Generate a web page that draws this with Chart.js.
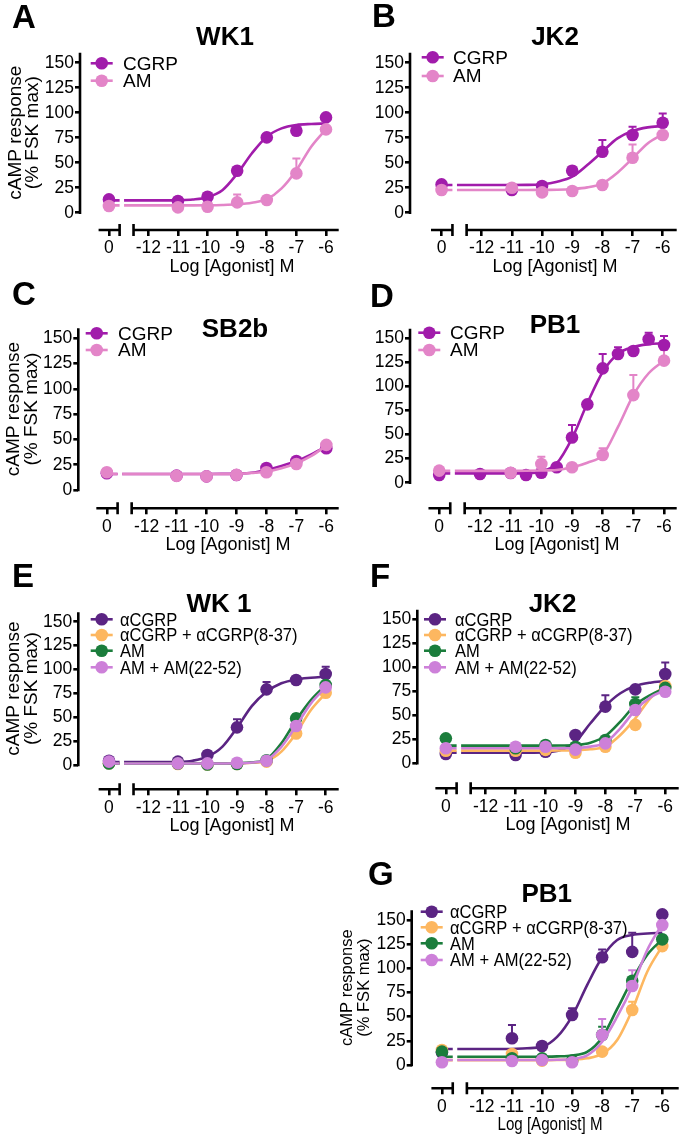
<!DOCTYPE html>
<html><head><meta charset="utf-8">
<script src="https://cdn.jsdelivr.net/npm/chart.js@4.4.1/dist/chart.umd.min.js"></script>
<style>
html,body{margin:0;padding:0;background:#fff;}
body{width:685px;height:1138px;position:relative;overflow:hidden;}
canvas{position:absolute;}
</style>
</head><body>
<canvas id="cA"></canvas><canvas id="cB"></canvas><canvas id="cC"></canvas><canvas id="cD"></canvas>
<canvas id="cE"></canvas><canvas id="cF"></canvas><canvas id="cG"></canvas>
<script>
// ---------------- DATA ----------------
// doses: log [agonist] M ; 0 = no agonist (basal)
const DOSES = [0, -11, -10, -9, -8, -7, -6];
const DOSES_D_CGRP = [0, -12, -11, -10.5, -10, -9.5, -9, -8.5, -8, -7.5, -7, -6.5, -6];
const X_TICK_DOSES = [0, -12, -11, -10, -9, -8, -7, -6];
const X_TICK_LABELS = ['0', '-12', '-11', '-10', '-9', '-8', '-7', '-6'];
const Y_TICKS = [0, 25, 50, 75, 100, 125, 150];
const CURVE_LOGX = [-12.5, -12, -11.5, -11, -10.5, -10, -9.5, -9, -8.5, -8, -7.5, -7, -6.5, -6];

// Panel A  WK1
const A_CGRP = [13.3, 11.7, 16, 42, 75.3, 82, 95.3];
const A_CGRP_ERR = [null, null, null, null, null, null, null];
const A_AM = [6.7, 5.3, 6, 10.3, 12.7, 39.3, 83.3];
const A_AM_ERR = [null, null, null, 8, null, 15, null];
const A_CGRP_FIT = [12.3, 12.3, 12.3, 12.5, 13.2, 15.5, 22.5, 39, 59.5, 76, 84.3, 87.7, 88.7, 89.2];
const A_AM_FIT = [7.3, 7.3, 7.3, 7.3, 7.3, 7.4, 7.7, 8.4, 10, 13.5, 24.3, 42.5, 66, 83.5];

// Panel B  JK2
const B_CGRP = [28.3, 22.7, 26.7, 42, 61, 77.7, 90];
const B_CGRP_ERR = [null, null, null, 4, 11.7, 8.3, 9.3];
const B_AM = [22.7, 25, 20.3, 21.7, 27.7, 55, 77.7];
const B_AM_ERR = [null, null, null, null, null, 13.3, 12];
const B_CGRP_FIT = [27.7, 27.7, 27.7, 27.7, 27.8, 28.5, 31, 36, 47.7, 61, 74.3, 81.7, 85.3, 86.7];
const B_AM_FIT = [22.7, 22.7, 22.7, 22.7, 22.7, 22.8, 23, 23.7, 25.3, 29.3, 40, 54.3, 69.3, 78.3];

// Panel C  SB2b
const C_CGRP = [16.5, 14.2, 13.5, 14.9, 21.8, 28.7, 41.3];
const C_AM = [17.5, 14, 13.5, 15, 17.5, 25.7, 44.6];
const C_NO_ERR = [null, null, null, null, null, null, null];
const C_CGRP_FIT = [15.8, 15.8, 15.8, 15.8, 15.8, 15.8, 15.9, 16.2, 17, 19.8, 23.8, 28.7, 35.3, 42.9];
const C_AM_FIT = [15.8, 15.8, 15.8, 15.8, 15.8, 15.8, 15.8, 16, 16.8, 18, 21.4, 26.4, 33.7, 43.9];

// Panel D  PB1
const D_CGRP = [8, 9, 10, 8, 10.4, 16, 47, 81.4, 118.8, 133.7, 136.8, 149, 143];
const D_CGRP_ERR = [null, null, null, null, null, null, 13, null, 15, 7, null, 6.8, 9.4];
const D_AM = [12.5, 10.4, 19.4, 16, 28.8, 91, 126.8];
const D_AM_ERR = [null, null, 7.6, null, 7, 21, 11];
const D_CGRP_FIT = [9.7, 9.7, 9.7, 9.7, 9.9, 11.4, 20, 46, 82.5, 115, 134, 141, 143.8, 144.8];
const D_AM_FIT = [12.3, 12.3, 12.3, 12.3, 12.4, 12.7, 13.2, 16, 20.8, 28.8, 58, 91, 113.7, 126.8];

// Panel E  WK 1
const E_ACGRP = [4.5, 3.5, 10.5, 39.4, 79.2, 88.9, 95.2];
const E_ACGRP_ERR = [null, null, 4, 8.4, 7.8, null, 7.6];
const E_ACGRP_ANT = [1.7, 1, 0.5, 1, 3.5, 33, 75.6];
const E_ACGRP_ANT_ERR = [null, null, null, null, null, null, null];
const E_AM = [1.5, 1.5, 0.5, 1, 5, 48.8, 83.7];
const E_AM_ERR = [null, null, null, null, null, 4, null];
const E_AM_ANT = [3.5, 1.7, 1.7, 2.4, 4.5, 40.8, 81.3];
const E_AM_ANT_ERR = [null, null, null, null, null, 7, null];
const E_ACGRP_FIT = [3, 3, 3, 3.2, 4.5, 8.7, 19, 39, 61.7, 76.7, 85.5, 89.6, 91.3, 92.4];
const E_ACGRP_ANT_FIT = [1.5, 1.5, 1.5, 1.5, 1.5, 1.5, 1.5, 1.7, 2.3, 4.2, 14, 33.2, 57.5, 75];
const E_AM_FIT = [1.5, 1.5, 1.5, 1.5, 1.5, 1.5, 1.6, 1.9, 2.8, 6, 22.7, 47, 68, 83.7];
const E_AM_ANT_FIT = [1.5, 1.5, 1.5, 1.5, 1.5, 1.5, 1.6, 1.8, 2.6, 5.3, 19, 40.8, 64.5, 81.3];

// Panel F  JK2
const F_ACGRP = [9.7, 8.6, 12.1, 29.5, 59, 77, 93];
const F_ACGRP_ERR = [null, null, null, null, 12, null, 12];
const F_ACGRP_ANT = [13, 13, 14, 11, 17.3, 40, 80.5];
const F_ACGRP_ANT_ERR = [null, null, null, null, null, null, 8];
const F_AM = [26, 15.6, 19, 17.3, 24.3, 61.8, 78.6];
const F_AM_ERR = [null, null, null, null, null, 7, null];
const F_AM_ANT = [15.6, 17.3, 17.3, 14.2, 20.8, 55.5, 74.6];
const F_AM_ANT_ERR = [null, null, null, null, null, null, null];
const F_ACGRP_FIT = [11, 11, 11, 11, 11.1, 11.5, 13.8, 22.5, 41.7, 59.7, 73, 80.5, 84, 85.7];
const F_ACGRP_ANT_FIT = [13.2, 13.2, 13.2, 13.2, 13.2, 13.2, 13.3, 13.6, 14.6, 17.3, 29.5, 46.8, 67.7, 81.5];
const F_AM_FIT = [18.4, 18.4, 18.4, 18.4, 18.4, 18.4, 18.5, 19, 21.5, 28.4, 43.4, 60.8, 71, 78];
const F_AM_ANT_FIT = [15.6, 15.6, 15.6, 15.6, 15.6, 15.6, 15.7, 16, 17.4, 21.5, 36.5, 55.5, 68.7, 76.3];

// Panel G  PB1
const G_ACGRP = [13, 27.6, 19.6, 51.7, 111.4, 117, 155.8];
const G_ACGRP_ERR = [null, 13.8, null, 6.9, 8.2, 19.8, null];
const G_ACGRP_ANT = [15.5, 11.4, 4.5, 4, 13.8, 56.9, 123];
const G_ACGRP_ANT_ERR = [null, null, null, null, null, 8.6, null];
const G_AM = [13.8, 7, 6.9, 4.5, 31, 87.2, 130];
const G_AM_ERR = [null, null, null, null, 8.6, null, null];
const G_AM_ANT = [2.8, 4.1, 5.2, 2.8, 31, 81.7, 144.8];
const G_AM_ANT_ERR = [null, null, null, null, 16.6, 16.3, 8];
const G_ACGRP_FIT = [16.5, 16.5, 16.5, 16.5, 17.3, 18.8, 29, 50.6, 82.7, 111.4, 129.3, 134.5, 136, 136.8];
const G_ACGRP_ANT_FIT = [5, 5, 5, 5, 5, 5, 5.2, 5.6, 6.9, 11.4, 25.8, 56.9, 96.5, 123];
const G_AM_FIT = [8.5, 8.5, 8.5, 8.5, 8.5, 8.6, 8.9, 9.8, 13.5, 28.5, 58, 88, 114, 130];
const G_AM_ANT_FIT = [5.2, 5.2, 5.2, 5.2, 5.2, 5.2, 5.4, 6.2, 10, 24, 50, 81, 119, 146];

// ---------------- STYLE / LAYOUT ----------------
const COL_CGRP = '#A11CAB', COL_AM = '#E385C8';
const COL_ACGRP = '#5B2483', COL_ANT = '#FDB760', COL_GREEN = '#1B7D3C', COL_VIOLET = '#CD80D9';
const FONT = '"Liberation Sans", Arial, Helvetica, sans-serif';
const ZERO_POS = -13.33, LEFT_START = -13.68, BREAK_L = -12.97, BREAK_R = -12.82, RIGHT_START = -12.5;
const YW = 42, XH = 36;

Chart.defaults.font.family = FONT;
Chart.defaults.color = '#000';

function toX(d) { return d === 0 ? ZERO_POS : d; }

function makePanel(L, series) {
  const cv = document.getElementById(L.id);
  cv.width = L.w; cv.height = L.h;
  cv.style.left = L.l + 'px'; cv.style.top = L.t + 'px';
  cv.style.width = L.w + 'px'; cv.style.height = L.h + 'px';
  const top = L.y0 - 160 * L.k;
  const xMin = -12 - (L.x12 - L.yAxisX) / L.pxLog;
  const xMax = -12 + (L.right - L.x12) / L.pxLog;
  const yMin = -(L.xAxisY - L.y0) / L.k;
  const n = series.length;
  const datasets = [];
  series.forEach((s, i) => {
    const fitPts = [{x: ZERO_POS, y: s.fit[0]}, {x: BREAK_L, y: s.fit[0]},
      {x: (BREAK_L + BREAK_R) / 2, y: null}, {x: BREAK_R, y: s.fit[0]}]
      .concat(CURVE_LOGX.map((lx, j) => ({x: lx, y: s.fit[j]})));
    datasets.push({label: s.label + ' fit', data: fitPts, borderColor: s.color, borderWidth: 2.6,
      pointRadius: 0, cubicInterpolationMode: 'monotone', spanGaps: false, fill: false, clip: false,
      order: 2 * (n - i) + 1});
    datasets.push({label: s.label, data: s.doses.map((d, j) => ({x: toX(d), y: s.values[j]})),
      showLine: false, pointRadius: 6.3, pointHoverRadius: 6.3, pointBackgroundColor: s.color,
      pointBorderColor: s.color, pointBorderWidth: 0, clip: false, order: 2 * (n - i)});
  });
  const lx = v => v - L.l, ly = v => v - L.t;
  const deco = {
    id: 'deco' + L.id,
    beforeDatasetsDraw(chart) {
      const ctx = chart.ctx, xs = chart.scales.x, ys = chart.scales.y, ca = chart.chartArea;
      ctx.save();
      ctx.strokeStyle = '#000'; ctx.lineWidth = 2.6; ctx.lineCap = 'butt';
      ctx.beginPath();
      ctx.moveTo(ca.left, ys.getPixelForValue(0) + 1.3); ctx.lineTo(ca.left, ys.getPixelForValue(160));
      const ay = ca.bottom, px = v => xs.getPixelForValue(v);
      ctx.moveTo(px(LEFT_START), ay); ctx.lineTo(px(BREAK_L), ay);
      ctx.moveTo(px(RIGHT_START), ay); ctx.lineTo(ca.right, ay);
      ctx.moveTo(px(BREAK_L), ay - 6); ctx.lineTo(px(BREAK_L), ay + 6);
      ctx.moveTo(px(RIGHT_START), ay - 6); ctx.lineTo(px(RIGHT_START), ay + 6);
      ctx.stroke();
      // error bars (upper SEM only)
      ctx.lineWidth = 2;
      series.forEach(s => {
        ctx.strokeStyle = s.color;
        s.doses.forEach((d, j) => {
          const e = s.err[j];
          if (e == null) return;
          const x = px(toX(d)), y1 = ys.getPixelForValue(s.values[j]), y2 = ys.getPixelForValue(s.values[j] + e);
          ctx.beginPath(); ctx.moveTo(x, y1); ctx.lineTo(x, y2);
          ctx.moveTo(x - 4, y2); ctx.lineTo(x + 4, y2); ctx.stroke();
        });
      });
      ctx.restore();
    },
    afterDraw(chart) {
      const ctx = chart.ctx, ys = chart.scales.y, ca = chart.chartArea;
      ctx.save();
      ctx.fillStyle = '#000';
      // panel letter
      ctx.font = 'bold 33px ' + FONT; ctx.textAlign = 'left'; ctx.textBaseline = 'alphabetic';
      ctx.fillText(L.letter, lx(L.letterX), ly(L.letterY));
      // title
      ctx.font = 'bold 26px ' + FONT; ctx.textAlign = 'center';
      ctx.fillText(L.title, lx(L.titleX), ly(L.titleY));
      // x axis title
      ctx.font = '18px ' + FONT; ctx.textBaseline = 'middle';
      ctx.save(); ctx.translate(lx(L.xTitleX), ca.bottom + 37); ctx.scale(L.xTitleScale || 1, 1);
      ctx.fillText('Log [Agonist] M', 0, 0); ctx.restore();
      // y axis title
      if (L.yTitle) {
        const cy = ys.getPixelForValue(80);
        ctx.save(); ctx.translate(ca.left, cy); ctx.rotate(-Math.PI / 2);
        ctx.font = (L.yTitleSize || 19) + 'px ' + FONT; ctx.textAlign = 'center'; ctx.textBaseline = 'middle';
        ctx.fillText('cAMP response', 0, -64.5);
        ctx.fillText('(% FSK max)', 0, -47);
        ctx.restore();
      }
      // legend
      series.forEach((s, i) => {
        const y = ly(L.legYs[i]), mx = lx(L.legX);
        ctx.strokeStyle = s.color; ctx.fillStyle = s.color; ctx.lineWidth = 2.6;
        ctx.beginPath(); ctx.moveTo(mx - 11, y); ctx.lineTo(mx + 11, y); ctx.stroke();
        ctx.beginPath(); ctx.arc(mx, y, 6.3, 0, Math.PI * 2); ctx.fill();
        ctx.fillStyle = '#000'; ctx.font = '19px ' + FONT; ctx.textAlign = 'left'; ctx.textBaseline = 'middle';
        ctx.save(); ctx.translate(lx(L.legTextX), y + 1); ctx.scale(L.legScale || 1, 1);
        ctx.fillText(s.label, 0, 0); ctx.restore();
      });
      ctx.restore();
    }
  };
  return new Chart(cv, {
    type: 'line',
    data: {datasets},
    options: {
      responsive: false, animation: false, devicePixelRatio: 1,
      layout: {padding: {left: L.yAxisX - L.l - YW, top: top - L.t, right: (L.l + L.w) - L.right,
        bottom: (L.t + L.h) - L.xAxisY - XH}},
      plugins: {legend: {display: false}, tooltip: {enabled: false}, title: {display: false}},
      scales: {
        x: {type: 'linear', min: xMin, max: xMax,
          afterBuildTicks: s => { s.ticks = X_TICK_DOSES.map(d => ({value: toX(d)})); },
          afterFit: s => { s.height = XH; },
          ticks: {autoSkip: false, maxRotation: 0, minRotation: 0, padding: 2, color: '#000',
            font: {size: 17.5}, callback: (v, i) => X_TICK_LABELS[i]},
          grid: {drawOnChartArea: false, drawTicks: true, tickLength: 6, color: '#000', lineWidth: 2.6},
          border: {display: false}},
        y: {type: 'linear', min: yMin, max: 160,
          afterBuildTicks: s => { s.ticks = Y_TICKS.map(v => ({value: v})); },
          afterFit: s => { s.width = YW; },
          ticks: {padding: 1, color: '#000', font: {size: 17.5}},
          grid: {drawOnChartArea: false, drawTicks: true, tickLength: 5, color: '#000', lineWidth: 2.6},
          border: {display: false}}
      }
    },
    plugins: [deco]
  });
}

function ser(label, color, doses, values, err, fit) { return {label, color, doses, values, err, fit}; }

const LEG4_A = 619.3, LEG4_B = 635, LEG4_C = 650.7, LEG4_D = 667.3;

makePanel({id: 'cA', l: 0, t: 0, w: 345, h: 280, yAxisX: 80, y0: 212.7, k: 1.0, xAxisY: 230, x12: 150, pxLog: 30.33, right: 345,
  letter: 'A', letterX: 12, letterY: 28, title: 'WK1', titleX: 225, titleY: 45, xTitleX: 232, yTitle: true,
  legX: 101.7, legYs: [63.3, 80.7], legTextX: 123},
  [ser('CGRP', COL_CGRP, DOSES, A_CGRP, A_CGRP_ERR, A_CGRP_FIT), ser('AM', COL_AM, DOSES, A_AM, A_AM_ERR, A_AM_FIT)]);

makePanel({id: 'cB', l: 345, t: 0, w: 340, h: 280, yAxisX: 410, y0: 212.7, k: 1.0, xAxisY: 230, x12: 481.7, pxLog: 30.17, right: 676.7,
  letter: 'B', letterX: 372, letterY: 27, title: 'JK2', titleX: 555, titleY: 45, xTitleX: 555, yTitle: false,
  legX: 432.7, legYs: [57.3, 76], legTextX: 453},
  [ser('CGRP', COL_CGRP, DOSES, B_CGRP, B_CGRP_ERR, B_CGRP_FIT), ser('AM', COL_AM, DOSES, B_AM, B_AM_ERR, B_AM_FIT)]);

makePanel({id: 'cC', l: 0, t: 280, w: 345, h: 275, yAxisX: 78.3, y0: 490, k: 1.0113, xAxisY: 508.3, x12: 148.3, pxLog: 30.67, right: 345,
  letter: 'C', letterX: 12, letterY: 305, title: 'SB2b', titleX: 235, titleY: 336.7, xTitleX: 228, yTitle: true,
  legX: 96.7, legYs: [333.3, 350], legTextX: 118},
  [ser('CGRP', COL_CGRP, DOSES, C_CGRP, C_NO_ERR, C_CGRP_FIT), ser('AM', COL_AM, DOSES, C_AM, C_NO_ERR, C_AM_FIT)]);

makePanel({id: 'cD', l: 345, t: 280, w: 340, h: 275, yAxisX: 410, y0: 482.7, k: 0.9627, xAxisY: 508.3, x12: 480, pxLog: 30.67, right: 676.7,
  letter: 'D', letterX: 370, letterY: 307, title: 'PB1', titleX: 555, titleY: 333, xTitleX: 557, yTitle: false,
  legX: 429.3, legYs: [332.7, 350], legTextX: 450},
  [ser('CGRP', COL_CGRP, DOSES_D_CGRP, D_CGRP, D_CGRP_ERR, D_CGRP_FIT), ser('AM', COL_AM, DOSES, D_AM, D_AM_ERR, D_AM_FIT)]);

makePanel({id: 'cE', l: 0, t: 555, w: 345, h: 285, yAxisX: 78.3, y0: 765, k: 0.9553, xAxisY: 789.3, x12: 150, pxLog: 30.28, right: 345,
  letter: 'E', letterX: 12, letterY: 587, title: 'WK 1', titleX: 219, titleY: 612, xTitleX: 232, yTitle: true,
  legX: 101.7, legYs: [LEG4_A, LEG4_B, LEG4_C, LEG4_D], legTextX: 120, legScale: 0.87},
  [ser('αCGRP', COL_ACGRP, DOSES, E_ACGRP, E_ACGRP_ERR, E_ACGRP_FIT),
   ser('αCGRP + αCGRP(8-37)', COL_ANT, DOSES, E_ACGRP_ANT, E_ACGRP_ANT_ERR, E_ACGRP_ANT_FIT),
   ser('AM', COL_GREEN, DOSES, E_AM, E_AM_ERR, E_AM_FIT),
   ser('AM + AM(22-52)', COL_VIOLET, DOSES, E_AM_ANT, E_AM_ANT_ERR, E_AM_ANT_FIT)]);

makePanel({id: 'cF', l: 345, t: 555, w: 340, h: 285, yAxisX: 417.3, y0: 763.3, k: 0.96, xAxisY: 788.3, x12: 486.7, pxLog: 30.39, right: 682.7,
  letter: 'F', letterX: 370, letterY: 587, title: 'JK2', titleX: 552.5, titleY: 612, xTitleX: 568, yTitle: false,
  legX: 435, legYs: [LEG4_A, LEG4_B, LEG4_C, LEG4_D], legTextX: 455, legScale: 0.87},
  [ser('αCGRP', COL_ACGRP, DOSES, F_ACGRP, F_ACGRP_ERR, F_ACGRP_FIT),
   ser('αCGRP + αCGRP(8-37)', COL_ANT, DOSES, F_ACGRP_ANT, F_ACGRP_ANT_ERR, F_ACGRP_ANT_FIT),
   ser('AM', COL_GREEN, DOSES, F_AM, F_AM_ERR, F_AM_FIT),
   ser('AM + AM(22-52)', COL_VIOLET, DOSES, F_AM_ANT, F_AM_ANT_ERR, F_AM_ANT_FIT)]);

makePanel({id: 'cG', l: 335, t: 840, w: 350, h: 298, yAxisX: 411.7, y0: 1065, k: 0.9667, xAxisY: 1088.3, x12: 482.7, pxLog: 30.4, right: 681.7,
  letter: 'G', letterX: 368, letterY: 885, title: 'PB1', titleX: 546.7, titleY: 902, xTitleX: 550, xTitleScale: 0.84,
  yTitle: true, yTitleSize: 16.5,
  legX: 431.7, legYs: [911.7, 927.3, 943.3, 960], legTextX: 450, legScale: 0.87},
  [ser('αCGRP', COL_ACGRP, DOSES, G_ACGRP, G_ACGRP_ERR, G_ACGRP_FIT),
   ser('αCGRP + αCGRP(8-37)', COL_ANT, DOSES, G_ACGRP_ANT, G_ACGRP_ANT_ERR, G_ACGRP_ANT_FIT),
   ser('AM', COL_GREEN, DOSES, G_AM, G_AM_ERR, G_AM_FIT),
   ser('AM + AM(22-52)', COL_VIOLET, DOSES, G_AM_ANT, G_AM_ANT_ERR, G_AM_ANT_FIT)]);
</script>
</body></html>
